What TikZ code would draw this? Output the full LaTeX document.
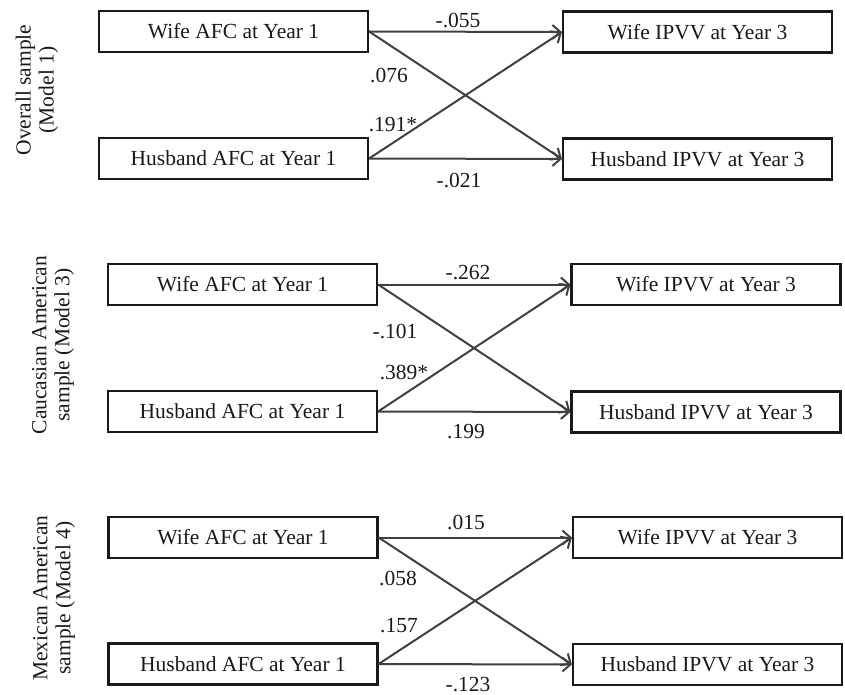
\documentclass[tikz,border=0pt]{standalone}
\usepackage{fontspec}
\setmainfont{Liberation Serif}
\usetikzlibrary{arrows.meta}
\begin{document}
\begin{tikzpicture}[x=1pt,y=-1pt,
  box/.style={draw=black!90, line width=2.2pt, minimum width=269pt, minimum height=41pt, inner sep=0pt, font=\fontsize{21.5}{23}\selectfont, text=black!90},
  link/.style={draw=black!75, line width=2pt, -{Straight Barb[length=8pt,width=14pt,line width=2pt]}},
  coef/.style={font=\fontsize{21.5}{23}\selectfont, text=black!90, inner sep=0pt},
  side/.style={rotate=90, align=center, font=\fontsize{21.5}{23}\selectfont, text=black!90, inner sep=0pt}
]
\useasboundingbox (0,0) rectangle (845,695);

% Panel 1
\node[box] (wa1) at (233.5,31.5) {Wife AFC at Year 1};
\node[box] (ha1) at (233.5,158.5) {Husband AFC at Year 1};
\node[box] (wi1) at (697.5,32) {Wife IPVV at Year 3};
\node[box] (hi1) at (697.5,159) {Husband IPVV at Year 3};
\draw[link] (wa1.east) -- (wi1.west);
\draw[link] (wa1.east) -- (hi1.west);
\draw[link] (ha1.east) -- (wi1.west);
\draw[link] (ha1.east) -- (hi1.west);
\node[coef] (c11) at (458,21) {-.055};
\node[coef] (c12) at (389,76) {.076};
\node[coef] (c13) at (393,125) {.191*};
\node[coef] (c14) at (459,181) {-.021};
\node[side] (s1) at (37,90) {Overall sample\\(Model 1)};

% Panel 2
\node[box] (wa2) at (242.5,284.5) {Wife AFC at Year 1};
\node[box] (ha2) at (242.5,411.5) {Husband AFC at Year 1};
\node[box] (wi2) at (706,284.5) {Wife IPVV at Year 3};
\node[box] (hi2) at (706,412) {Husband IPVV at Year 3};
\draw[link] (wa2.east) -- (wi2.west);
\draw[link] (wa2.east) -- (hi2.west);
\draw[link] (ha2.east) -- (wi2.west);
\draw[link] (ha2.east) -- (hi2.west);
\node[coef] (c21) at (468,273) {-.262};
\node[coef] (c22) at (395,331) {-.101};
\node[coef] (c23) at (404,372) {.389*};
\node[coef] (c24) at (466,432) {.199};
\node[side] (s2) at (53,345) {Caucasian American\\sample (Model 3)};

% Panel 3
\node[box] (wa3) at (243,537.5) {Wife AFC at Year 1};
\node[box] (ha3) at (243,664) {Husband AFC at Year 1};
\node[box] (wi3) at (707.5,537.5) {Wife IPVV at Year 3};
\node[box] (hi3) at (707.5,664.5) {Husband IPVV at Year 3};
\draw[link] (wa3.east) -- (wi3.west);
\draw[link] (wa3.east) -- (hi3.west);
\draw[link] (ha3.east) -- (wi3.west);
\draw[link] (ha3.east) -- (hi3.west);
\node[coef] (c31) at (466,522) {.015};
\node[coef] (c32) at (398,578) {.058};
\node[coef] (c33) at (399,626) {.157};
\node[coef] (c34) at (468,684.5) {-.123};
\node[side] (s3) at (54,598) {Mexican American\\sample (Model 4)};
\end{tikzpicture}
\end{document}
